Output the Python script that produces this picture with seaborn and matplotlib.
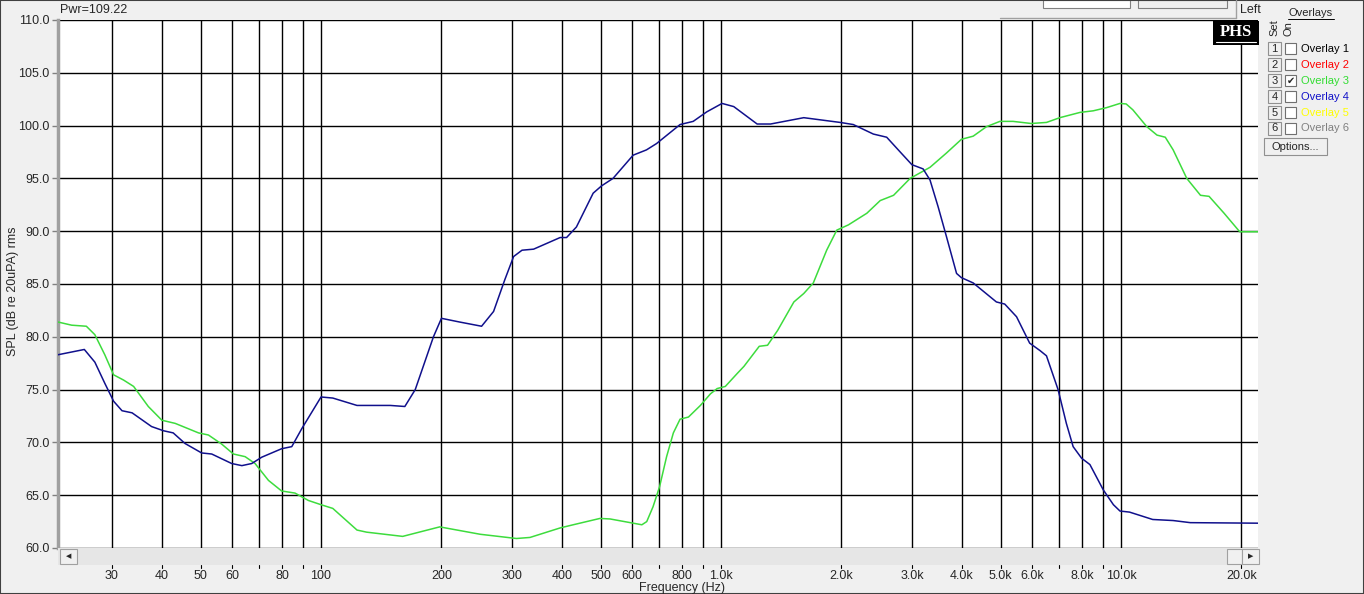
import matplotlib
matplotlib.use('Agg')
import matplotlib.pyplot as plt
import matplotlib.patches as mpatches
import seaborn as sns
import pandas as pd
import numpy as np

# Overlay 4 (blue) and Overlay 3 (green) responses
blue_freq = [22, 25.6, 27.2, 28.8, 30.3, 31.8, 33.7, 37.7, 40.4, 42.7, 45.7, 50.3, 53.3,
             59.8, 63.4, 67.1, 71.1, 79.7, 84.5, 89.5, 100, 107, 123, 149, 162, 172, 191,
             200, 222, 252, 270, 288, 303, 318, 340, 396, 411, 435, 479, 503, 537, 603,
             651, 690, 790, 852, 921, 1006, 1076, 1231, 1330, 1610, 1985, 2141, 2403,
             2595, 2805, 3000, 3200, 3330, 3490, 3660, 3880, 3990, 4270, 4880, 5120, 5480,
             5910, 6270, 6510, 6960, 7300, 7590, 7970, 8360, 9030, 9570, 9940, 10500,
             12000, 13500, 14900, 22000]
blue_db = [78.3, 78.8, 77.6, 75.6, 73.9, 73.0, 72.8, 71.5, 71.1, 70.9, 69.9, 69.0, 68.9,
           68.0, 67.8, 68.0, 68.6, 69.4, 69.6, 71.3, 74.3, 74.2, 73.5, 73.5, 73.4, 75.0, 80.0,
           81.75, 81.4, 81.0, 82.4, 85.4, 87.6, 88.2, 88.3, 89.4, 89.4, 90.4, 93.6, 94.3, 95.0, 97.2,
           97.7, 98.3, 100.1, 100.4, 101.3, 102.1, 101.8, 100.15, 100.15, 100.75, 100.3, 100.1, 99.2,
           98.9, 97.5, 96.3, 95.9, 94.85, 92.3, 89.5, 86.0, 85.6, 85.1, 83.3, 83.1, 81.9,
           79.4, 78.7, 78.2, 75.0, 71.8, 69.6, 68.5, 67.9, 65.5, 64.1, 63.5, 63.4,
           62.7, 62.6, 62.4, 62.35]

green_freq = [22, 23.8, 25.9, 27.2, 28.8, 30.3, 32.1, 34.0, 37.0, 40.0, 43.2, 49.4, 52.3,
              56.4, 60.4, 64.6, 68.4, 73.9, 79.7, 86.1, 93.0, 100, 107, 123, 130, 160, 198,
              250, 308, 333, 396, 427, 498, 528, 634, 652, 676, 702, 731, 760, 790, 829, 888,
              941, 978, 1025, 1096, 1141, 1246, 1307, 1385, 1521, 1610, 1701, 1837, 1947,
              2082, 2315, 2500, 2700, 2970, 3330, 3660, 3990, 4270, 4610, 4980, 5370, 5960,
              6510, 7030, 7900, 8520, 9200, 9940, 10300, 10700, 11600, 12300, 12900, 13500,
              14600, 15800, 16600, 18100, 19800, 22000]
green_db = [81.4, 81.1, 81.0, 80.2, 78.3, 76.4, 75.9, 75.3, 73.4, 72.1, 71.8, 70.9, 70.7,
            69.85, 68.9, 68.65, 68.0, 66.4, 65.4, 65.2, 64.5, 64.1, 63.75, 61.7, 61.5, 61.1, 62.0,
            61.3, 60.9, 61.0, 61.9, 62.2, 62.8, 62.75, 62.2, 62.5, 63.9, 65.8, 68.65, 70.9, 72.2, 72.4, 73.5,
            74.6, 75.1, 75.3, 76.5, 77.2, 79.1, 79.2, 80.6, 83.3, 84.1, 85.1, 88.2, 90.1,
            90.6, 91.7, 92.9, 93.4, 95.0, 96.05, 97.4, 98.7, 99.0, 99.9, 100.4, 100.4, 100.2,
            100.3, 100.75, 101.25, 101.4, 101.7, 102.1, 102.05, 101.5, 99.9, 99.1, 98.9, 97.7,
            95.0, 93.4, 93.3, 91.7, 89.95, 89.95]

grid_freqs = [30, 40, 50, 60, 70, 80, 90, 100, 200, 300, 400, 500, 600, 700, 800, 900,
              1000, 2000, 3000, 4000, 5000, 6000, 7000, 8000, 9000, 10000, 20000]
label_freqs = [30, 40, 50, 60, 80, 100, 200, 300, 400, 500, 600, 800,
               1000, 2000, 3000, 4000, 5000, 6000, 8000, 10000, 20000]
freq_labels = ['30', '40', '50', '60', '80', '100', '200', '300', '400', '500', '600', '800',
               '1.0k', '2.0k', '3.0k', '4.0k', '5.0k', '6.0k', '8.0k', '10.0k', '20.0k']
db_ticks = [60, 65, 70, 75, 80, 85, 90, 95, 100, 105, 110]

overlay_names = ['Overlay 1', 'Overlay 2', 'Overlay 3', 'Overlay 4', 'Overlay 5', 'Overlay 6']
overlay_colors = ['#000000', '#ff0000', '#33dd33', '#1010c8', '#ffff00', '#808080']

sns.set_style('white')
plt.rcParams['font.family'] = ['Liberation Sans', 'DejaVu Sans']

W, H = 1364, 594
fig = plt.figure(figsize=(W / 100, H / 100), dpi=100)
fig.patch.set_facecolor('#f0f0f0')

def fx(px):
    return px / W

def fy(py):
    return 1 - py / H

# main plot area
ax = fig.add_axes([fx(58), fy(548), fx(1258) - fx(58), fy(20) - fy(548)])
ax.set_facecolor('white')

df_blue = pd.DataFrame({'freq': blue_freq, 'spl': blue_db})
df_green = pd.DataFrame({'freq': green_freq, 'spl': green_db})
for f in grid_freqs:
    ax.axvline(f, color='black', lw=1.0, zorder=1)
for d in db_ticks:
    ax.axhline(d, color='black', lw=1.0, zorder=1)
sns.lineplot(data=df_green, x='freq', y='spl', color='#3ddc3d', lw=1.1, ax=ax, zorder=3)
sns.lineplot(data=df_blue, x='freq', y='spl', color='#10108c', lw=1.1, ax=ax, zorder=4)

ax.set_xscale('log')
ax.set_xlim(22, 22000)
ax.set_ylim(60, 110)
ax.set_yticks(db_ticks)
ax.set_yticklabels([f'{d:.1f}' for d in db_ticks], fontsize=9)
ax.set_xticks(label_freqs)
ax.set_xticklabels(freq_labels, fontsize=9)
ax.xaxis.set_minor_locator(matplotlib.ticker.NullLocator())
ax.tick_params(axis='x', length=0, pad=16)
ax.tick_params(axis='y', length=4, width=1, color='#808080', pad=2, left=True)
ax.set_xlabel('')
ax.set_ylabel('')
for side in ['top', 'right', 'bottom']:
    ax.spines[side].set_visible(False)
ax.spines['left'].set_color('#a0a0a0')
ax.spines['left'].set_linewidth(2.5)

# scrollbar under the plot
fig.patches.append(mpatches.Rectangle((fx(58), fy(565)), fx(1258) - fx(58), fy(548) - fy(565),
                                      transform=fig.transFigure, facecolor='#e6e6e6',
                                      edgecolor='none'))
for x0, x1 in [(60, 77), (1227, 1242), (1242, 1259)]:
    fig.patches.append(mpatches.Rectangle((fx(x0), fy(564)), fx(x1) - fx(x0), fy(549) - fy(564),
                                          transform=fig.transFigure, facecolor='#f0f0f0',
                                          edgecolor='#a0a0a0', lw=0.8))
fig.text(fx(68.5), fy(556.5), '\u25c0', fontsize=5, ha='center', va='center', family='DejaVu Sans')
fig.text(fx(1250.5), fy(556.5), '\u25b6', fontsize=5, ha='center', va='center', family='DejaVu Sans')

# small marks above the frequency labels
for f in grid_freqs:
    xp = 58 + (np.log10(f) - np.log10(22)) * 400
    fig.add_artist(plt.Line2D([fx(xp), fx(xp)], [fy(565), fy(568)], color='black', lw=0.8))

fig.text(fx(682), fy(588), 'Frequency (Hz)', fontsize=9, ha='center', va='center')
fig.text(fx(13), fy(291), 'SPL (dB re 20uPA) rms', fontsize=9, rotation=90,
         ha='center', va='center')
fig.text(fx(60), fy(10), 'Pwr=109.22', fontsize=9, ha='left', va='center')

# top controls (cut off)
fig.add_artist(plt.Line2D([fx(1000), fx(1236)], [fy(18), fy(18)], color='#a0a0a0', lw=1))
fig.add_artist(plt.Line2D([fx(1236), fx(1236)], [fy(0), fy(18)], color='#a0a0a0', lw=1))
fig.patches.append(mpatches.Rectangle((fx(1043), fy(8)), fx(1130) - fx(1043), fy(0) - fy(8),
                                      transform=fig.transFigure, facecolor='white',
                                      edgecolor='#808080', lw=0.8))
fig.patches.append(mpatches.Rectangle((fx(1138), fy(8)), fx(1227) - fx(1138), fy(0) - fy(8),
                                      transform=fig.transFigure, facecolor='#f0f0f0',
                                      edgecolor='#808080', lw=0.8))
fig.text(fx(1240), fy(10), 'Left', fontsize=9, ha='left', va='center')

# PHS logo
fig.patches.append(mpatches.Rectangle((fx(1213), fy(45)), fx(1259) - fx(1213), fy(21) - fy(45),
                                      transform=fig.transFigure, facecolor='black',
                                      edgecolor='none', zorder=5))
fig.text(fx(1236), fy(32), 'PHS', fontsize=12, fontweight='bold', color='white',
         family='Liberation Serif', ha='center', va='center', zorder=6)
fig.add_artist(plt.Line2D([fx(1216), fx(1256)], [fy(42), fy(42)], color='white', lw=0.8, zorder=6))

# overlays panel
fig.text(fx(1311), fy(13), 'Overlays', fontsize=8, ha='center', va='center')
fig.add_artist(plt.Line2D([fx(1288), fx(1334)], [fy(19), fy(19)], color='black', lw=0.7))
fig.text(fx(1274), fy(28), 'Set', fontsize=8, rotation=90, ha='center', va='center')
fig.text(fx(1289), fy(29), 'On', fontsize=8, rotation=90, ha='center', va='center')
for i, (name, col) in enumerate(zip(overlay_names, overlay_colors)):
    yc = 48.5 + 16 * i
    fig.patches.append(mpatches.Rectangle((fx(1268), fy(yc + 6.5)), fx(1281) - fx(1268),
                                          fy(yc - 6.5) - fy(yc + 6.5),
                                          transform=fig.transFigure, facecolor='#f0f0f0',
                                          edgecolor='#909090', lw=0.8))
    fig.text(fx(1274.5), fy(yc), str(i + 1), fontsize=8, ha='center', va='center')
    fig.patches.append(mpatches.Rectangle((fx(1285), fy(yc + 5.5)), fx(1296) - fx(1285),
                                          fy(yc - 5.5) - fy(yc + 5.5),
                                          transform=fig.transFigure, facecolor='white',
                                          edgecolor='#707070', lw=0.8))
    if i == 2:
        fig.text(fx(1290.5), fy(yc), '\u2714', fontsize=7, ha='center', va='center',
                 family='DejaVu Sans')
    fig.text(fx(1301), fy(yc), name, fontsize=8, color=col, ha='left', va='center')

fig.patches.append(mpatches.Rectangle((fx(1264), fy(155)), fx(1327) - fx(1264), fy(138) - fy(155),
                                      transform=fig.transFigure, facecolor='#f0f0f0',
                                      edgecolor='#909090', lw=0.8))
fig.text(fx(1295.5), fy(146.5), 'Options...', fontsize=8, ha='center', va='center')

# window frame
fig.patches.append(mpatches.Rectangle((0, 0), 1, 1, transform=fig.transFigure,
                                      facecolor='none', edgecolor='#404040', lw=1.5))

fig.savefig('out.png', dpi=100, facecolor=fig.get_facecolor())
